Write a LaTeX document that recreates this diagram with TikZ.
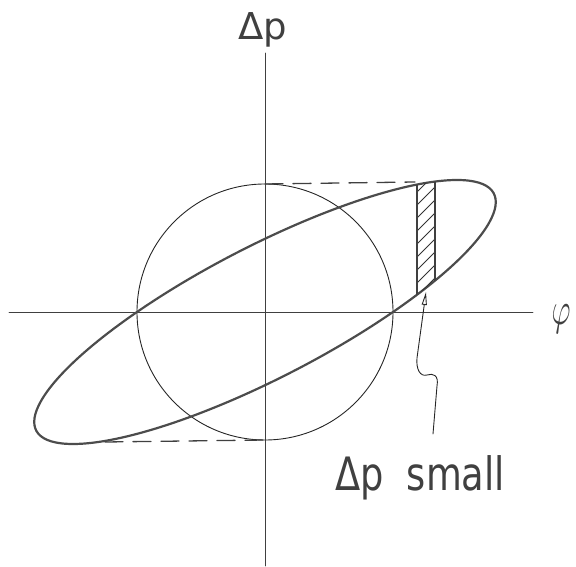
\documentclass[tikz,border=0pt]{standalone}
\usepackage{fontspec}
\newfontfamily\labfont{DejaVu Sans}
\usetikzlibrary{arrows.meta}
\begin{document}
\begin{tikzpicture}[x=1pt,y=1pt,line cap=round,
  axis/.style={line width=0.9pt,draw=black!75},
  circ/.style={line width=0.9pt,draw=black!85},
  ell/.style={line width=2.2pt,draw=black!70,xslant=1.4545},
  guide/.style={line width=1.3pt,draw=black!75,dash pattern=on 18pt off 10pt},
  hatch/.style={line width=0.8pt,draw=black!80},
  stripedge/.style={line width=2pt,draw=black!75},
  pointer/.style={line width=0.9pt,draw=black!85,-{Triangle[open,length=13pt,width=5pt]}},
  lab/.style={inner sep=0pt,text=black!75}
]
\useasboundingbox (-265,-255) rectangle (311,312);
% axes
\coordinate (xl) at (-256,0);
\coordinate (xr) at (268,0);
\coordinate (yb) at (0,-254);
\coordinate (yt) at (0,259);
\draw[axis] (xl) -- (xr);
\draw[axis] (yb) -- (yt);
\node[lab,anchor=base west] (dp) at (-27,272) {\labfont\fontsize{37}{37}\selectfont Δp};
\node[lab] (phi) at (296,-7) {\scalebox{2.9}[4.6]{$\varphi$}};
% circle
\draw[circ] (0,0) circle [radius=128pt];
% ellipse
\draw[ell] (0,0) ellipse [x radius=128pt,y radius=132pt];
% dashed guides
\coordinate (ctop) at (0,128);
\coordinate (etop) at (150,130);
\coordinate (cbot) at (0,-128);
\coordinate (ebot) at (-160,-130);
\draw[guide] (ctop) -- (etop);
\draw[guide] (ebot) -- (cbot);
% hatched strip
\begin{scope}
  \clip[xslant=1.4545] (0,0) ellipse [x radius=128pt,y radius=132pt];
  \clip (152,-60) rectangle (170,160);
  \foreach \y in {-62,-49,...,150} \draw[hatch] (152,\y) -- (170,\y+18);
\end{scope}
\begin{scope}
  \clip[xslant=1.4545] (0,0) ellipse [x radius=128pt,y radius=132pt];
  \draw[stripedge] (152,-60) -- (152,160);
  \draw[stripedge] (170,-60) -- (170,160);
\end{scope}
% wavy pointer
\coordinate (wstart) at (168,-122);
\coordinate (wtip) at (161,20);
\draw[pointer] (wstart) -- (172,-74) .. controls (174,-63) and (168,-61) .. (162,-63)
  .. controls (155,-65) and (151,-57) .. (152,-46) -- (wtip);
\node[lab,anchor=base west] (small) at (70,-179)
  {\scalebox{0.8}[1]{\labfont\fontsize{46}{46}\selectfont Δp\hspace{29pt}small}};
\end{tikzpicture}
\end{document}
